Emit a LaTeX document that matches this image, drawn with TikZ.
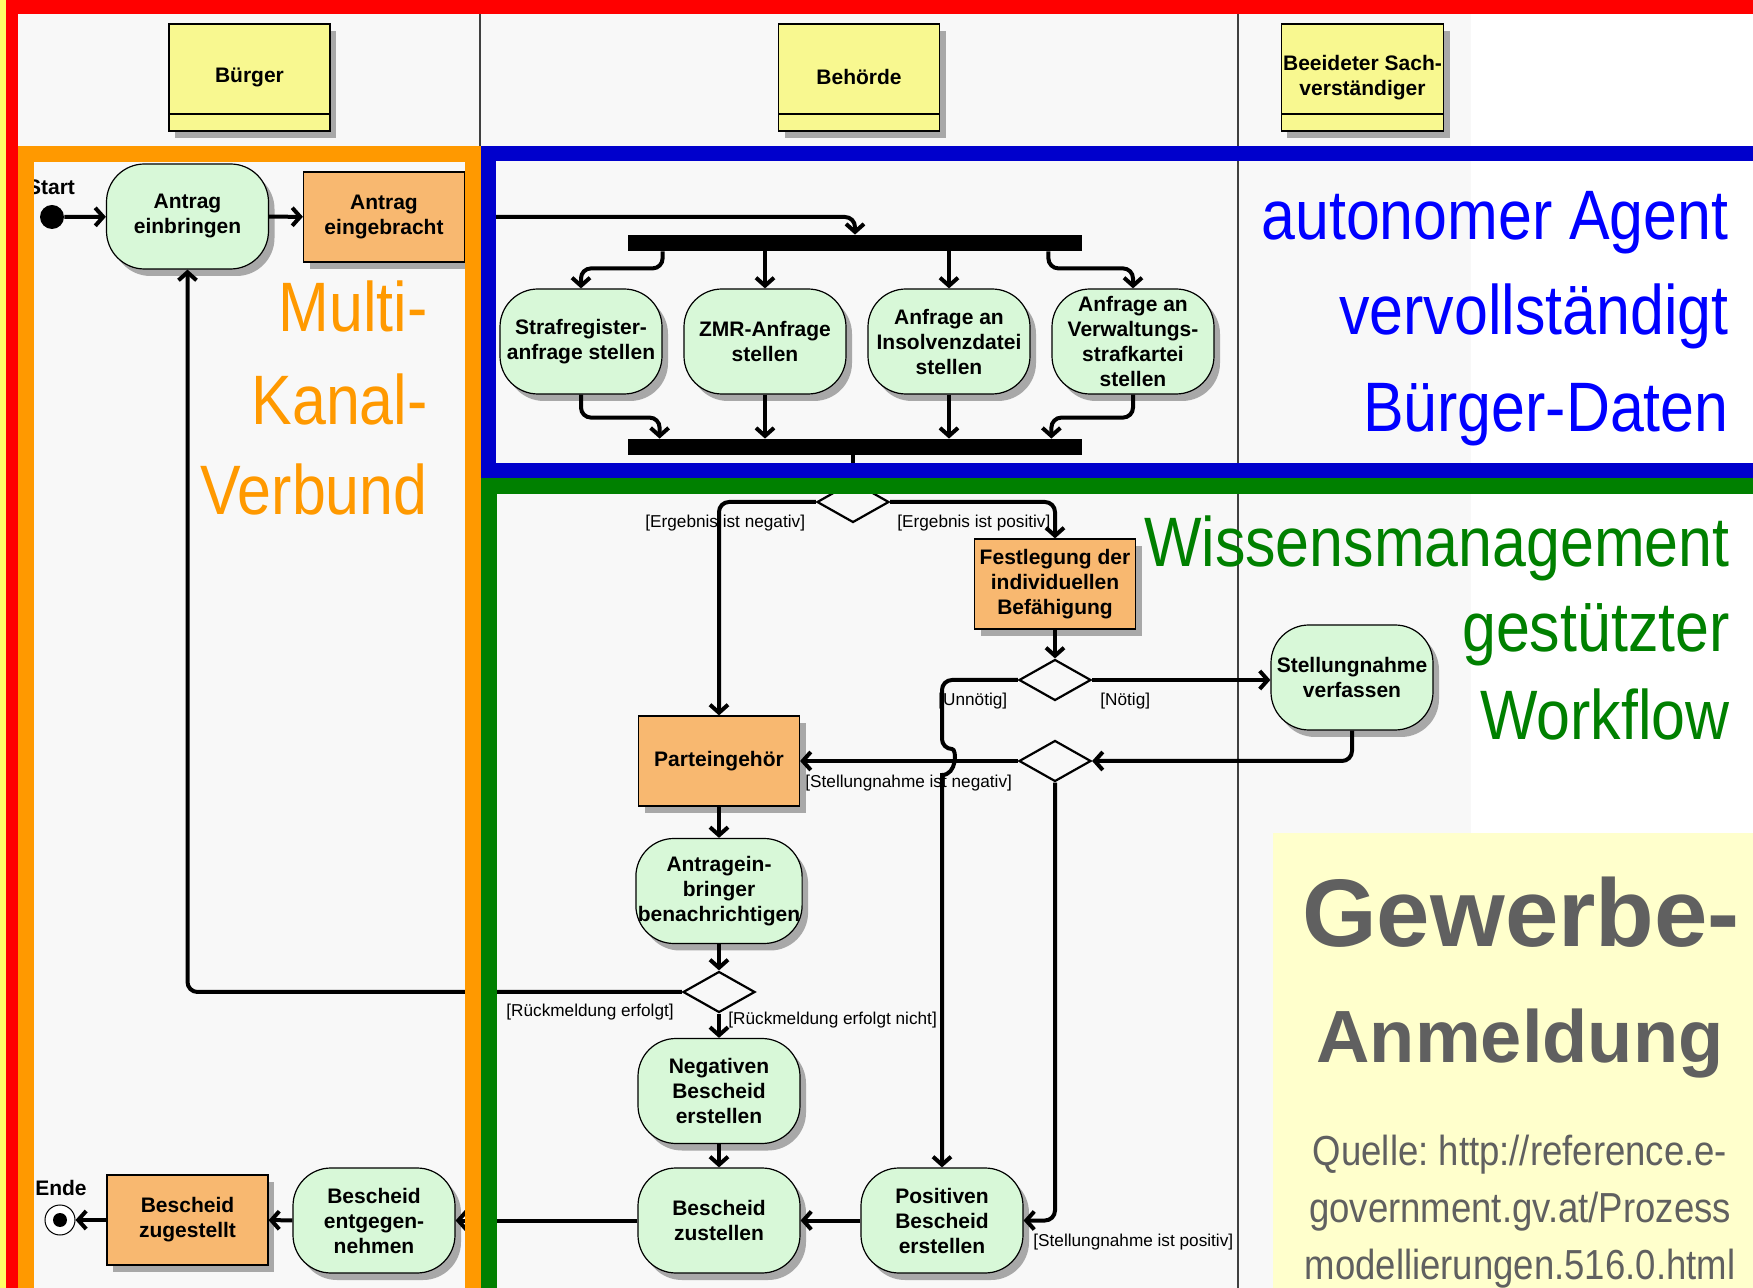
\documentclass[tikz,border=0pt]{standalone}
\usepackage{fontspec}
\setmainfont{Liberation Sans}
\newfontfamily\narrowfont[FakeStretch=0.87]{Liberation Sans}
\usetikzlibrary{positioning,shapes.geometric,arrows.meta,shadows}

\definecolor{bggray}{HTML}{F8F8F8}
\definecolor{actgreen}{HTML}{D8F8D8}
\definecolor{stateorange}{HTML}{F8B870}
\definecolor{laneyellow}{HTML}{F8F890}
\definecolor{shadowgray}{HTML}{A8A8A8}
\definecolor{noteyellow}{HTML}{FFFFCC}
\definecolor{stripyellow}{HTML}{FFFF66}
\definecolor{frameorange}{HTML}{FF9900}
\definecolor{frameblue}{HTML}{0000CC}
\definecolor{framegreen}{HTML}{008000}
\definecolor{textblue}{HTML}{0000FF}
\definecolor{titlegray}{HTML}{606060}
\definecolor{dividergray}{HTML}{404040}

\newcommand\actfont{\bfseries\fontsize{10.5}{12.5}\selectfont}
\newcommand\guardfont{\fontsize{8.6}{10}\selectfont}
\newcommand\bigfont{\narrowfont\fontsize{35}{40}\selectfont}
\newcommand\quellefont{\narrowfont\fontsize{21}{26}\selectfont}
\frenchspacing

\begin{document}
\begin{tikzpicture}[x=0.5pt,y=-0.5pt]

\tikzstyle{shadowed} = [drop shadow={shadow xshift=3pt,shadow yshift=-3.5pt,fill=shadowgray,opacity=1}]
\tikzstyle{activity} = [draw,line width=0.6pt,fill=actgreen,rounded corners=19pt,shadowed,minimum width=81pt,minimum height=52.5pt,inner sep=1pt,align=center,font=\actfont]
\tikzstyle{statebox} = [draw,line width=0.6pt,fill=stateorange,shadowed,minimum width=80.5pt,minimum height=45pt,inner sep=1pt,align=center,font=\actfont]
\tikzstyle{lanehead} = [draw,line width=0.6pt,fill=laneyellow,shadowed,minimum width=80.5pt,minimum height=53.5pt,inner sep=1pt,align=center,font=\actfont,
  path picture={\draw[line width=0.6pt] ([yshift=8.5pt]path picture bounding box.south west) -- ([yshift=8.5pt]path picture bounding box.south east);}]
\tikzstyle{decision} = [diamond,draw,line width=1.1pt,fill=bggray,inner sep=0,minimum width=36pt,minimum height=20.5pt]
\tikzstyle{syncbar} = [fill=black,inner sep=0,minimum width=227pt,minimum height=8pt]
\tikzstyle{startstate} = [circle,fill=black,inner sep=0,minimum size=12pt]
\tikzstyle{endstate} = [circle,draw,line width=0.5pt,fill=white,inner sep=0,minimum size=15pt,
  path picture={\fill[black] (path picture bounding box.center) circle (3.5pt);}]
\tikzstyle{guard} = [font=\guardfont,inner sep=0,anchor=west]
\tikzstyle{flow} = [draw,line width=2pt,-{Straight Barb[length=4pt,width=9pt]},rounded corners=5pt]
\tikzstyle{bigtext} = [font=\bigfont,inner sep=0,anchor=base east]
\tikzstyle{source} = [font=\quellefont,text=titlegray,inner sep=0,anchor=base]

\useasboundingbox (0,0) rectangle (1753,1288);
\fill[white] (0,0) rectangle (1753,1288);
\fill[bggray] (16,14) rectangle (1471,1288);
\fill[noteyellow] (1273,833) rectangle (1753,1288);

% swimlane separators
\draw[dividergray,line width=0.7pt] (480,14) -- (480,1288);
\draw[dividergray,line width=0.7pt] (1238,14) -- (1238,1288);

% lane headers
\node [lanehead] (buerger) at (249.5,77.5) {Bürger};
\node [lanehead] (behoerde) at (859,77.5) {Behörde};
\node [lanehead] (sachverst) at (1362.5,77.5) {Beeideter Sach-\\verständiger};

% Buerger lane
\node [startstate] (start) at (52,217) {};
\node [font=\actfont,inner sep=0] (startlbl) at (51,187) {Start};
\node [activity] (einbringen) at (187.5,216.5) {Antrag\\einbringen};
\node [statebox] (eingebracht) at (384,217) {Antrag\\eingebracht};

\node [endstate] (ende) at (60,1220) {};
\node [font=\actfont,inner sep=0] (endlbl) at (61,1188) {Ende};
\node [statebox] (zugestellt) at (187.5,1220) {Bescheid\\zugestellt};
\node [activity] (entgegen) at (374,1220.5) {Bescheid\\entgegen-\\nehmen};

% data collection
\node [syncbar] (fork) at (855,243) {};
\node [activity] (straf) at (581,341.5) {Strafregister-\\anfrage stellen};
\node [activity] (zmr) at (765,341.5) {ZMR-Anfrage\\stellen};
\node [activity] (insol) at (949,341.5) {Anfrage an\\Insolvenzdatei\\stellen};
\node [activity] (verw) at (1133,341.5) {Anfrage an\\Verwaltungs-\\strafkartei\\stellen};
\node [syncbar] (join) at (855,447) {};

% workflow
\node [decision] (dec1) at (853,502) {};
\node [statebox] (festlegung) at (1055,584) {Festlegung der\\individuellen\\Befähigung};
\node [decision] (dec2) at (1055,680) {};
\node [activity] (stellung) at (1352,677.5) {Stellungnahme\\verfassen};
\node [statebox] (parteiengehoer) at (719,761) {Parteingehör};
\node [decision] (dec3) at (1055,761) {};
\node [activity] (benach) at (719,891) {Antragein-\\bringer\\benachrichtigen};
\node [decision] (dec4) at (719,992) {};
\node [activity] (negativ) at (719,1091) {Negativen\\Bescheid\\erstellen};
\node [activity] (zustellen) at (719,1220.5) {Bescheid\\zustellen};
\node [activity] (positiv) at (942,1220.5) {Positiven\\Bescheid\\erstellen};

\coordinate (jumptop) at (942,749);
\coordinate (jumpbot) at (942,775);

% guards
\node [guard] (gneg) at (645,523) {[Ergebnis ist negativ]};
\node [guard] (gpos) at (897,523) {[Ergebnis ist positiv]};
\node [guard] (gunn) at (938,701) {[Unnötig]};
\node [guard] (gnoe) at (1100,701) {[Nötig]};
\node [guard] (gsneg) at (805,783) {[Stellungnahme ist negativ]};
\node [guard] (grm) at (506,1012) {[Rückmeldung erfolgt]};
\node [guard] (grmn) at (728,1020) {[Rückmeldung erfolgt nicht]};
\node [guard] (gspos) at (1033,1242) {[Stellungnahme ist positiv]};

\path[flow] (start) -- (einbringen);
\path[flow] (einbringen) -- (eingebracht);
\path[flow] (eingebracht.east) -| (fork.north);

\path[flow] ([xshift=17.5pt]fork.south west) -- ++(0,17) -| (straf.north);
\path[flow] (fork.south -| zmr.north) -- (zmr.north);
\path[flow] (fork.south -| insol.north) -- (insol.north);
\path[flow] ([xshift=-17pt]fork.south east) -- ++(0,17) -| (verw.north);

\path[flow] (straf.south) -- ++(0,23) -| ([xshift=16pt]join.north west);
\path[flow] (zmr.south) -- (zmr.south |- join.north);
\path[flow] (insol.south) -- (insol.south |- join.north);
\path[flow] (verw.south) -- ++(0,23) -| ([xshift=-15.5pt]join.north east);

\path[draw,line width=2pt] (join.south -| dec1.north) -- (dec1.north);
\path[flow] (dec1.west) -| (parteiengehoer.north);
\path[flow] (dec1.east) -| (festlegung.north);
\path[flow] (festlegung) -- (dec2);
\path[flow] (dec2.east) -- (dec2.east -| stellung.west);
\path[flow] (stellung.south) |- (dec3.east);
\path[flow] (dec3.west) -- (parteiengehoer.east);
\path[flow] (dec2.west) -| (jumptop) [sharp corners] .. controls +(15,0) and +(15,0) .. (jumpbot) -- (positiv.north);
\path[flow] (dec3.south) |- (positiv.east);

\path[flow] (parteiengehoer) -- (benach);
\path[flow] (benach) -- (dec4);
\path[flow] (dec4.west) -| (einbringen.south);
\path[flow] (dec4) -- (negativ);
\path[flow] (negativ) -- (zustellen);
\path[flow] (positiv) -- (zustellen);
\path[flow] (zustellen) -- (entgegen);
\path[flow] (entgegen) -- (zugestellt);
\path[flow] (zugestellt) -- (ende);

% colour frames
\draw[frameorange,line width=8pt] (26,154) rectangle (473,1320);
\draw[frameblue,line width=7.5pt] (488,154) rectangle (1780,471);
\draw[framegreen,line width=8pt] (488.5,486) rectangle (1780,1320);
\fill[stripyellow] (0,0) rectangle (6,1288);
\fill[red] (6,0) rectangle (18,1288);
\fill[red] (6,0) rectangle (1753,14);

% captions
\foreach \txt/\yy in {autonomer Agent/240,vervollständigt/335,Bürger-Daten/432}
  \node [bigtext,text=textblue] (agent\yy) at (1729,\yy) {\txt};
\foreach \txt/\yy in {Multi-/332,Kanal-/425,Verbund/515}
  \node [bigtext,text=frameorange] (kanal\yy) at (428,\yy) {\txt};
\foreach \txt/\yy in {Wissensmanagement/567,gestützter/652,Workflow/740}
  \node [bigtext,text=framegreen] (wissen\yy) at (1730,\yy) {\txt};

\node [font=\bfseries\fontsize{48}{50}\selectfont,text=titlegray,inner sep=0,anchor=base] (gewerbe) at (1521,947) {Gewerbe-};
\node [font=\bfseries\fontsize{37}{40}\selectfont,text=titlegray,inner sep=0,anchor=base] (anmeldung) at (1520,1062) {Anmeldung};
\node [source] (quelle1) at (1520,1165) {Quelle: http://reference.e-};
\node [source] (quelle2) at (1520,1222) {government.gv.at/Prozess};
\node [source] (quelle3) at (1520,1279) {modellierungen.516.0.html};

\end{tikzpicture}
\end{document}
